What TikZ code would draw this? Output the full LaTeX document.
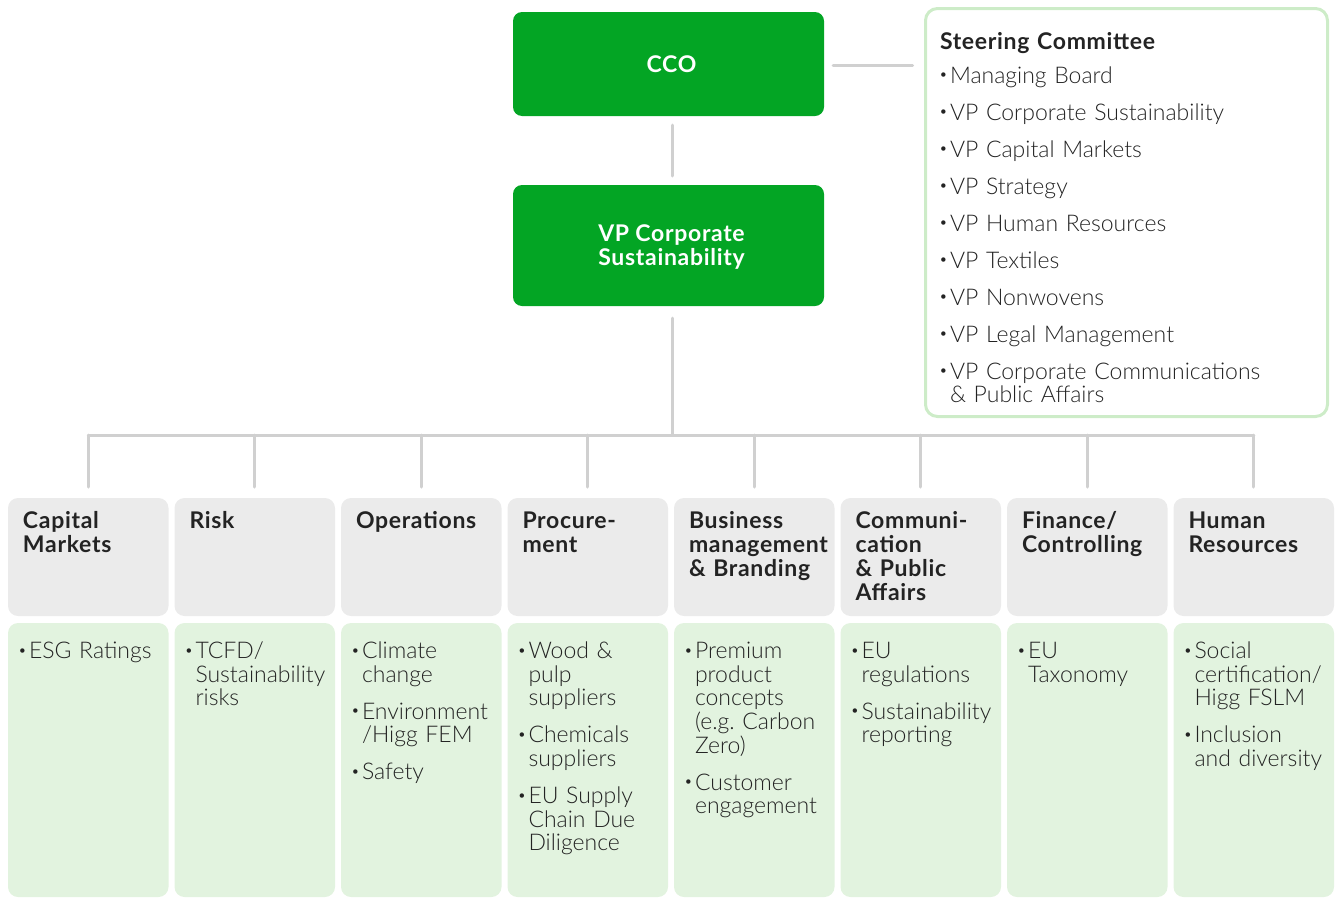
\documentclass[tikz,border=0pt]{standalone}
\usepackage{fontspec}
\setmainfont{Lato Light}[BoldFont={Lato Bold}, BoldFeatures={LetterSpace=3}]
\usepackage{graphicx}
\frenchspacing
\definecolor{topgreen}{RGB}{3,165,36}
\definecolor{headgray}{RGB}{235,235,235}
\definecolor{bodygreen}{RGB}{226,243,223}
\definecolor{scborder}{RGB}{205,236,200}
\definecolor{linegray}{RGB}{208,208,208}
\definecolor{txt}{RGB}{35,35,35}
\newcommand{\fsz}{\fontsize{23}{23.7}\selectfont}
\newcommand{\bul}{\makebox[11pt][l]{\raisebox{0.14em}{\scalebox{0.65}{\textbullet}}}}
\newcommand{\itm}[1]{\hangindent=11pt\hangafter=1\noindent\bul #1\par}
\tikzset{
  every node/.style={inner sep=0pt, outer sep=0pt},
  conn/.style={draw=linegray, line width=3pt, line cap=round},
  topbox/.style={fill=topgreen, rounded corners=9pt, minimum width=311pt},
  toptext/.style={text=white, font={\fontsize{23}{24}\selectfont\bfseries}, align=center},
  headbox/.style={fill=headgray, rounded corners=10pt, minimum width=160.5pt, minimum height=118pt, anchor=north west},
  bodybox/.style={fill=bodygreen, rounded corners=10pt, minimum width=160.5pt, minimum height=274pt, anchor=north west},
  htext/.style={anchor=base west, text width=200pt, align=left, text=txt, font={\fontsize{23}{24}\selectfont\bfseries\hyphenpenalty=10000}},
  btext/.style={anchor=base west, text width=200pt, align=left, text=txt, font={\fsz\setlength{\parskip}{13.3pt}\hyphenpenalty=10000}},
}
\begin{document}
\begin{tikzpicture}[x=1pt, y=-1pt]
\useasboundingbox (0,0) rectangle (1338,897);
% top
\node[topbox, minimum height=104pt] (cco) at (668.5,64) {};
\node[toptext] (ccotext) at ([xshift=3pt]cco.center) {CCO};
\node[topbox, minimum height=121pt] (vp) at (668.5,245.5) {};
\node[toptext] (vptext) at ([xshift=3pt,yshift=-1.5pt]vp.center) {VP Corporate\\Sustainability};
\node[draw=scborder, line width=3pt, rounded corners=12pt, minimum width=402pt, minimum height=408pt] (sc) at (1126.5,212.5) {};
\node[htext, text width=380pt] (sctitle) at (940,49) {Steering Committee};
\node[btext, text width=380pt] (scitems) at (939,83) {%
\itm{Managing Board}\itm{VP Corporate Sustainability}\itm{VP Capital Markets}\itm{VP Strategy}\itm{VP Human Resources}\itm{VP Textiles}\itm{VP Nonwovens}\itm{VP Legal Management}\itm{VP Corporate Communications\newline \& Public Affairs}};
% columns
\foreach \i in {1,...,8}{
  \pgfmathsetmacro{\L}{8+166.5*(\i-1)}
  \node[headbox] (h\i) at (\L,498) {};
  \node[bodybox] (b\i) at (\L,623) {};
}
\node[htext] (t1) at ([xshift=15pt,yshift=-30pt]h1.north west) {Capital\newline Markets};
\node[htext] (t2) at ([xshift=15pt,yshift=-30pt]h2.north west) {Risk};
\node[htext] (t3) at ([xshift=15pt,yshift=-30pt]h3.north west) {Operations};
\node[htext] (t4) at ([xshift=15pt,yshift=-30pt]h4.north west) {Procure-\newline ment};
\node[htext] (t5) at ([xshift=15pt,yshift=-30pt]h5.north west) {Business\newline management\newline \& Branding};
\node[htext] (t6) at ([xshift=15pt,yshift=-30pt]h6.north west) {Communi-\newline cation\newline \& Public\newline Affairs};
\node[htext] (t7) at ([xshift=15pt,yshift=-30pt]h7.north west) {Finance/\newline Controlling};
\node[htext] (t8) at ([xshift=15pt,yshift=-30pt]h8.north west) {Human\newline Resources};
\node[btext] (c1) at ([xshift=10pt,yshift=-35.3pt]b1.north west) {\itm{ESG Ratings}};
\node[btext] (c2) at ([xshift=10pt,yshift=-35.3pt]b2.north west) {\itm{TCFD/\newline Sustainability\newline risks}};
\node[btext] (c3) at ([xshift=10pt,yshift=-35.3pt]b3.north west) {\itm{Climate\newline change}\itm{Environment\newline /Higg FEM}\itm{Safety}};
\node[btext] (c4) at ([xshift=10pt,yshift=-35.3pt]b4.north west) {\itm{Wood \&\newline pulp\newline suppliers}\itm{Chemicals\newline suppliers}\itm{EU Supply\newline Chain Due\newline Diligence}};
\node[btext] (c5) at ([xshift=10pt,yshift=-35.3pt]b5.north west) {\itm{Premium\newline product\newline concepts\newline (e.g. Carbon\newline Zero)}\itm{Customer\newline engagement}};
\node[btext] (c6) at ([xshift=10pt,yshift=-35.3pt]b6.north west) {\itm{EU\newline regulations}\itm{Sustainability\newline reporting}};
\node[btext] (c7) at ([xshift=10pt,yshift=-35.3pt]b7.north west) {\itm{EU\newline Taxonomy}};
\node[btext] (c8) at ([xshift=10pt,yshift=-35.3pt]b8.north west) {\itm{Social\newline certification/\newline Higg FSLM}\itm{Inclusion\newline and diversity}};
% connectors
\coordinate (bus) at (672,435);
\coordinate (ccoR) at ([yshift=-1pt]cco.east);
\draw[conn] ([xshift=3.5pt,yshift=-9pt]cco.south) -- ([xshift=3.5pt,yshift=9pt]vp.north);
\draw[conn, shorten <=9pt, shorten >=13pt] (ccoR) -- (ccoR -| sc.west);
\draw[conn] ([xshift=3.5pt,yshift=-12pt]vp.south) -- (bus);
\draw[conn] (h1.north |- bus) -- (h8.north |- bus);
\foreach \i in {1,...,8}{
  \draw[conn] (h\i.north |- bus) -- ([yshift=11pt]h\i.north);
}
\end{tikzpicture}
\end{document}
